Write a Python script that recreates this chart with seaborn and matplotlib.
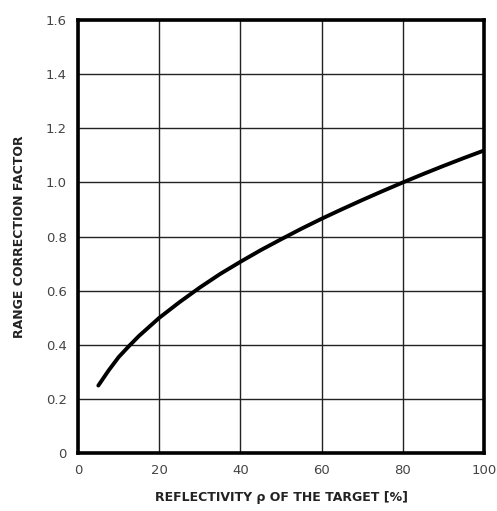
import matplotlib
matplotlib.use("Agg")
import matplotlib.pyplot as plt
import seaborn as sns
import pandas as pd

# Range correction factor vs. target reflectivity
reflectivity = [5, 7.5, 10, 12.5, 15, 20, 25, 30, 35, 40, 45, 50, 55, 60,
                65, 70, 75, 80, 85, 90, 95, 100]
correction = [0.25, 0.305, 0.355, 0.395, 0.433, 0.50, 0.558, 0.612, 0.662, 0.707,
              0.75, 0.79, 0.829, 0.866, 0.901, 0.935, 0.968, 1.00, 1.031, 1.061,
              1.09, 1.118]

x_ticks = [0, 20, 40, 60, 80, 100]
y_ticks = [0, 0.2, 0.4, 0.6, 0.8, 1.0, 1.2, 1.4, 1.6]
y_tick_labels = ["0", "0.2", "0.4", "0.6", "0.8", "1.0", "1.2", "1.4", "1.6"]

df = pd.DataFrame({"reflectivity": reflectivity, "correction": correction})

sns.set_style("white")
plt.rcParams["font.family"] = ["DejaVu Sans"]

fig = plt.figure(figsize=(4.97, 5.11), dpi=100)
ax = fig.add_axes([0.157, 0.113, 0.817, 0.848])

sns.lineplot(data=df, x="reflectivity", y="correction", ax=ax,
             color="black", linewidth=2.8, zorder=3)
ax.lines[0].set_solid_joinstyle("round")

ax.set_xlim(0, 100)
ax.set_ylim(0, 1.6)
ax.set_xticks(x_ticks)
ax.set_xticklabels([str(t) for t in x_ticks])
ax.set_yticks(y_ticks)
ax.set_yticklabels(y_tick_labels)
ax.grid(True, color="#222222", linewidth=1.0)
ax.tick_params(axis="both", length=0, labelsize=9.5, labelcolor="#444444", pad=8)

for side in ax.spines.values():
    side.set_linewidth(2.6)
    side.set_color("black")
    side.set_visible(True)

ax.set_xlabel("REFLECTIVITY ρ OF THE TARGET [%]", fontsize=9, fontweight="bold",
              color="#222222", labelpad=10)
ax.set_ylabel("RANGE CORRECTION FACTOR", fontsize=9, fontweight="bold",
              color="#222222", labelpad=14)

fig.savefig("out.png", dpi=100)
